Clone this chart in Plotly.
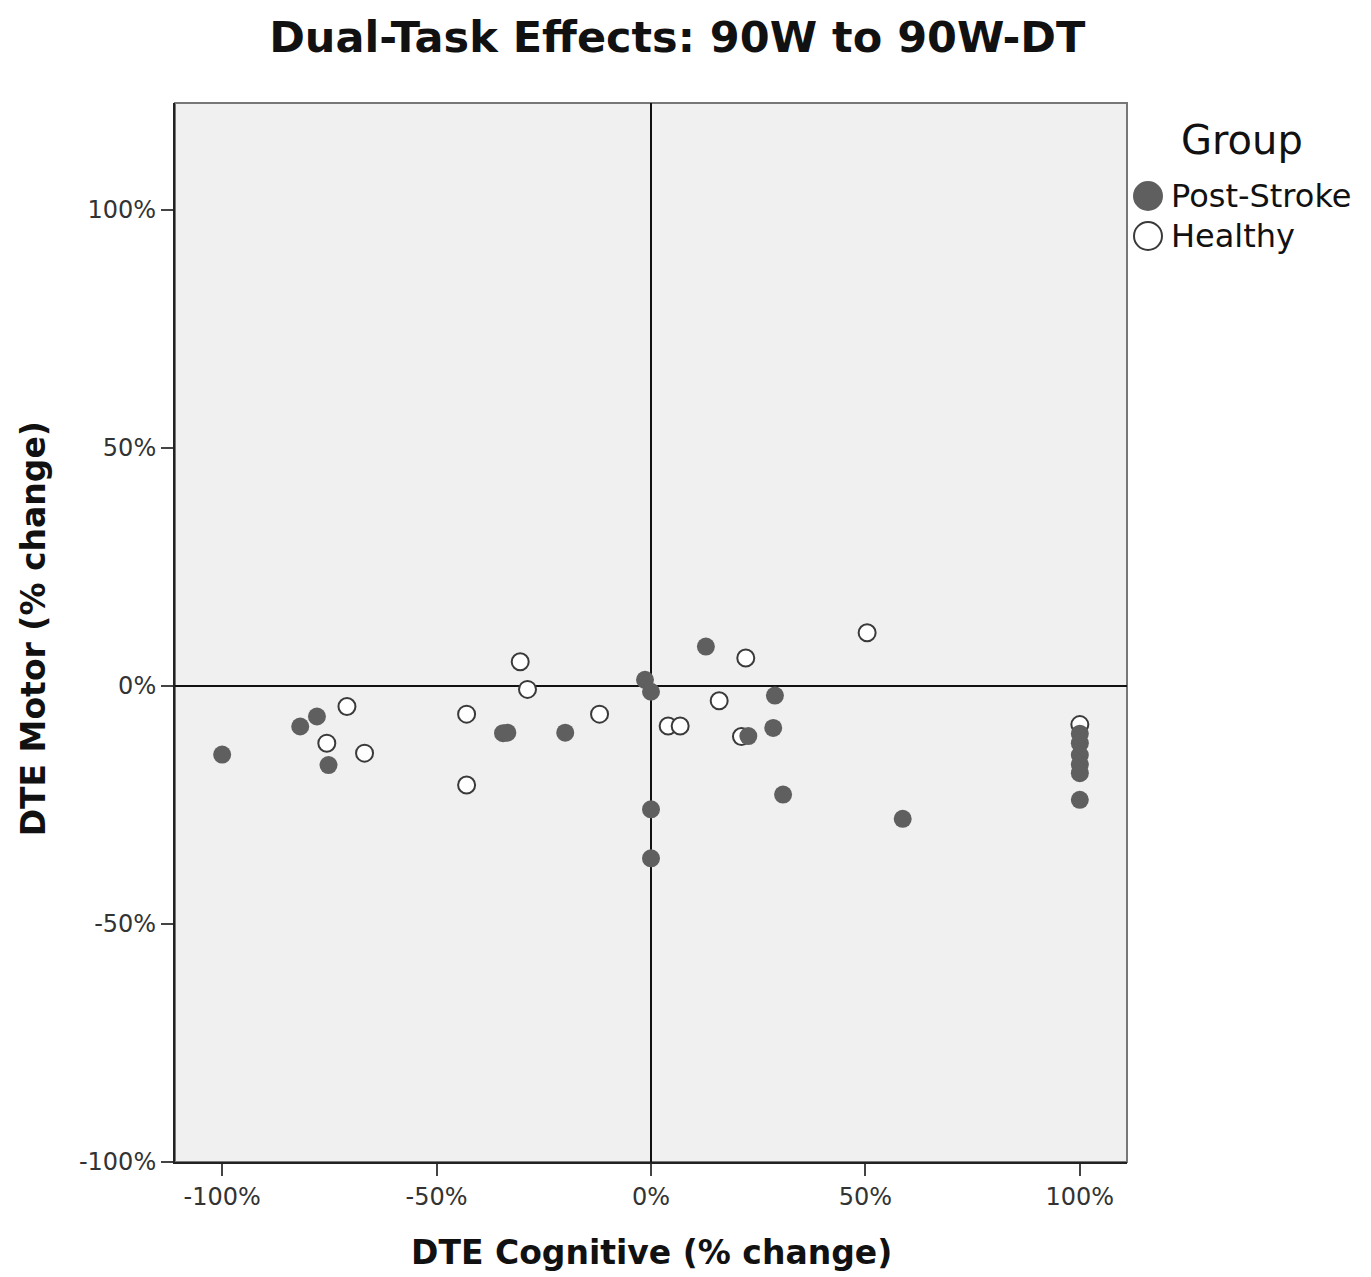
import plotly.graph_objects as go

# Post-Stroke (filled) points: DTE Cognitive (%), DTE Motor (%)
stroke_x = [-100, -81.8, -77.9, -75.2, -34.5, -33.5, -20.0, -1.4, 0.0, 0.0, 0.0,
            12.8, 22.7, 28.5, 28.9, 30.8, 58.7,
            100, 100, 100, 100, 100, 100]
stroke_y = [-14.4, -8.5, -6.4, -16.6, -9.9, -9.8, -9.8, 1.3, -1.2, -25.9, -36.2,
            8.3, -10.5, -8.8, -2.0, -22.8, -27.9,
            -10.0, -12.0, -14.5, -16.5, -18.3, -23.9]

# Healthy (hollow) points
healthy_x = [-75.6, -70.9, -66.8, -43.0, -43.0, -30.5, -28.8, -12.0,
             4.0, 6.8, 15.9, 21.1, 22.1, 50.4, 100]
healthy_y = [-12.0, -4.3, -14.1, -5.9, -20.8, 5.1, -0.7, -5.9,
             -8.4, -8.4, -3.1, -10.6, 5.9, 11.2, -8.1]

tick_vals = [-100, -50, 0, 50, 100]
tick_text = ["-100%", "-50%", "0%", "50%", "100%"]

FONT = "DejaVu Sans"

fig = go.Figure()
fig.add_trace(go.Scatter(
    x=healthy_x, y=healthy_y, mode="markers", name="Healthy",
    marker=dict(size=17, color="white", line=dict(color="#3a3a3a", width=2)),
    showlegend=False))
fig.add_trace(go.Scatter(
    x=stroke_x, y=stroke_y, mode="markers", name="Post-Stroke",
    marker=dict(size=18, color="#5f5f5f", line=dict(color="#5f5f5f", width=0)),
    showlegend=False))

fig.update_layout(
    width=1371, height=1277,
    margin=dict(l=175, r=244, t=103, b=115),
    paper_bgcolor="white", plot_bgcolor="#f0f0f0",
    font=dict(family=FONT, color="#222"),
    title=dict(text="<b>Dual-Task Effects: 90W to 90W-DT</b>",
               x=0.494, xanchor="center", y=1 - 37 / 1277, yanchor="middle",
               font=dict(size=43, color="#111", family=FONT)),
)
fig.update_xaxes(
    range=[-111, 111], tickvals=tick_vals, ticktext=tick_text,
    showgrid=False, zeroline=True, zerolinecolor="#111", zerolinewidth=2,
    showline=True, linecolor="#222", linewidth=2,
    ticks="outside", ticklen=12, tickwidth=2, tickcolor="#444",
    tickfont=dict(size=24, color="#333", family=FONT))
fig.update_yaxes(
    range=[-100, 122.5], tickvals=tick_vals, ticktext=tick_text,
    showgrid=False, zeroline=True, zerolinecolor="#111", zerolinewidth=2,
    showline=True, linecolor="#222", linewidth=2,
    ticks="outside", ticklen=12, tickwidth=2, tickcolor="#444",
    tickfont=dict(size=24, color="#333", family=FONT))

# top/right border of plot frame
fig.add_shape(type="rect", xref="paper", yref="paper", x0=0, x1=1, y0=0, y1=1,
              line=dict(color="#777", width=2), layer="below")

# axis titles
fig.add_annotation(text="<b>DTE Cognitive (% change)</b>", xref="paper", yref="paper",
                   x=0.5, y=-90 / 1059, xanchor="center", yanchor="middle",
                   showarrow=False, font=dict(size=33, color="#111", family=FONT))
fig.add_annotation(text="<b>DTE Motor (% change)</b>", xref="paper", yref="paper",
                   x=-(175 - 33) / 952, y=0.503, xanchor="center", yanchor="middle",
                   textangle=-90, showarrow=False,
                   font=dict(size=33, color="#111", family=FONT))

# legend (drawn manually to match the large symbols)
def px_x(p):
    return (p - 175) / 952

def px_y(p):
    return (1162 - p) / 1059

fig.add_annotation(text="Group", xref="paper", yref="paper", x=px_x(1242), y=px_y(140),
                   xanchor="center", yanchor="middle", showarrow=False,
                   font=dict(size=40, color="#111", family=FONT))
legend_items = [("Post-Stroke", "#5f5f5f", "#5f5f5f", 196),
                ("Healthy", "white", "#3a3a3a", 236)]
for label, fill, edge, cy in legend_items:
    fig.add_shape(type="circle", xref="paper", yref="paper",
                  xsizemode="pixel", ysizemode="pixel",
                  xanchor=px_x(1148), yanchor=px_y(cy),
                  x0=-14, x1=14, y0=-14, y1=14,
                  fillcolor=fill, line=dict(color=edge, width=2))
    fig.add_annotation(text=label, xref="paper", yref="paper", x=px_x(1169), y=px_y(cy),
                       xanchor="left", yanchor="middle", showarrow=False,
                       font=dict(size=32, color="#111", family=FONT))

fig.write_html("out.html")
